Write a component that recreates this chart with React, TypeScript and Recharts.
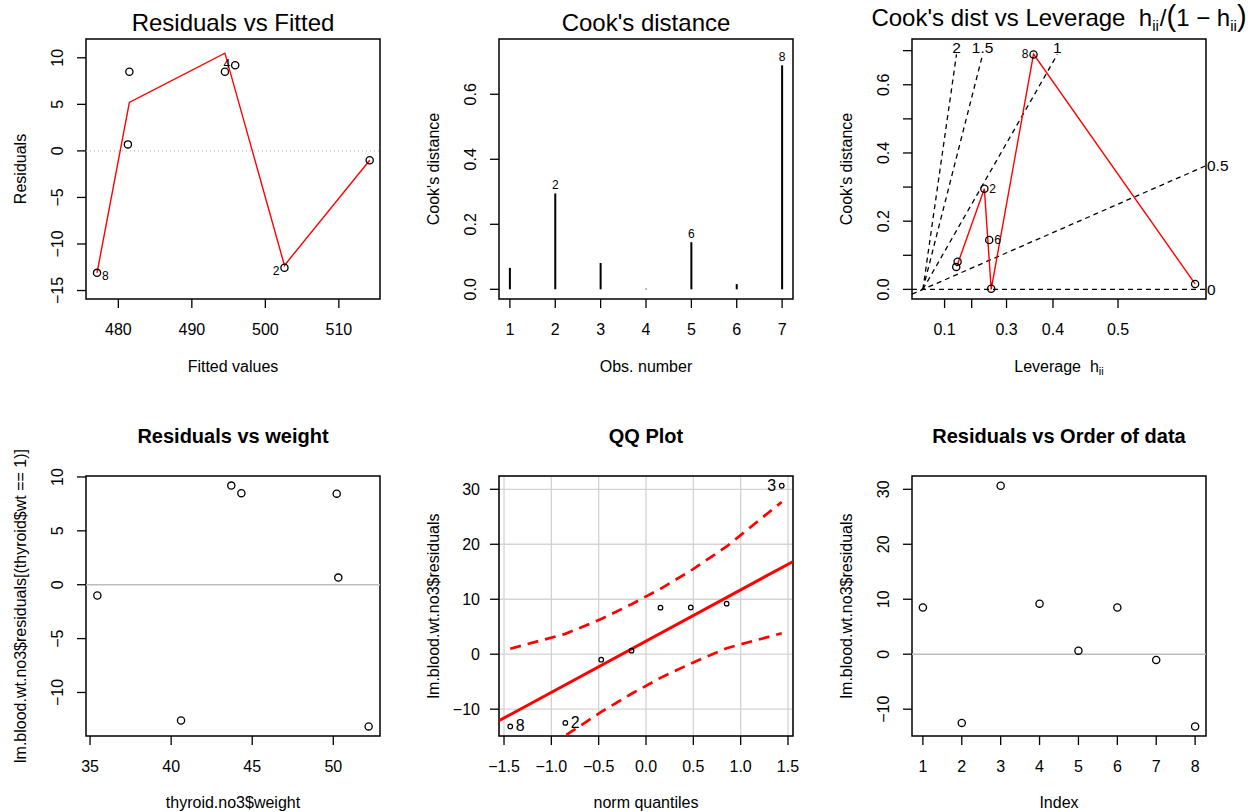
import React from "react";
import {
  ComposedChart,
  XAxis,
  YAxis,
  Scatter,
  Line,
  ReferenceLine,
  ReferenceArea,
  ReferenceDot,
  CartesianGrid,
} from "recharts";

const FONT = '"Liberation Sans", Arial, Helvetica, sans-serif';
const RED = "#ff0000";

// ---- model without obs 3: residuals vs fitted ----
const obsIds = ["1", "2", "4", "5", "6", "7", "8"];
const fittedVals = [481.5, 502.6, 495.9, 481.3, 494.5, 514.2, 477.1];
const residVals = [8.5, -12.55, 9.2, 0.7, 8.5, -1.0, -13.1];
const smoothFitted = [477.1, 481.5, 494.5, 502.6, 514.2];
const smoothResid = [-13.1, 5.2, 10.5, -12.3, -1.0];
const fittedTicks = [480, 490, 500, 510];
const residTicks = [-15, -10, -5, 0, 5, 10];
const flaggedResid = ["8", "2", "4"];

// ---- Cook's distance ----
const cookObs = [1, 2, 3, 4, 5, 6, 7];
const cookD = [0.066, 0.295, 0.081, 0.002, 0.145, 0.016, 0.689];
const flaggedCook = ["2", "6", "8"];
const cookTicks = [0, 0.2, 0.4, 0.6];

// ---- Cook's dist vs leverage h/(1-h) ----
const levRatio = [0.171, 0.315, 0.178, 0.35, 0.34, 1.395, 0.567];
const smoothLev = [0.174, 0.315, 0.35, 0.567, 1.395];
const smoothCook = [0.068, 0.295, 0.0, 0.69, 0.016];
const contourLevels = [0, 0.5, 1, 1.5, 2];
const levTicksH = [0.1, 0.2, 0.3, 0.4, 0.5];
const levTickLabels = ["0.1", "", "0.3", "0.4", "0.5"];
const cookTicks3 = [0, 0.1, 0.2, 0.3, 0.4, 0.5, 0.6, 0.7];
const cookTick3Labels = ["0.0", "", "0.2", "", "0.4", "", "0.6", ""];
const flaggedLev = ["8", "2", "6"];

// ---- residuals vs weight ----
const weights = [35.45, 40.61, 43.71, 44.33, 50.21, 50.31, 52.18];
const weightResid = [-1.0, -12.6, 9.2, 8.5, 8.45, 0.66, -13.15];
const weightTicks = [35, 40, 45, 50];
const weightResidTicks = [-10, -5, 0, 5, 10];

// ---- QQ plot (full model residuals) ----
const qqQuantiles = [-1.434, -0.852, -0.473, -0.153, 0.153, 0.473, 0.852, 1.434];
const qqSorted = [-13.15, -12.5, -1.0, 0.65, 8.47, 8.5, 9.2, 30.65];
const qqIds = ["8", "2", "7", "5", "1", "6", "4", "3"];
const qqUpper = [1.0, 3.7, 6.4, 9.1, 11.9, 15.2, 19.6, 27.7];
const qqLower = [-22.9, -14.8, -10.5, -7.2, -4.3, -1.7, 1.1, 3.8];
const qqLineX = [-1.55, 1.55];
const qqLineY = [-12.07, 16.83];
const flaggedQQ = ["8", "2", "3"];
const qqXTicks = [-1.5, -1, -0.5, 0, 0.5, 1, 1.5];
const bigResidTicks = [-10, 0, 10, 20, 30];

// ---- residuals vs order ----
const orderIdx = [1, 2, 3, 4, 5, 6, 7, 8];
const orderResid = [8.5, -12.5, 30.65, 9.2, 0.65, 8.5, -1.04, -13.15];

const fmt = (v: number, d: number) => {
  const s = Math.abs(v).toFixed(d);
  return v < -1e-9 ? "\u2212" + s : s;
};

const TL = { stroke: "#000", strokeWidth: 1.3 };

function XTick(props: any) {
  const { x, y, payload, index, labels, digits } = props;
  const text = labels ? labels[index] : fmt(payload.value, digits ?? 0);
  return (
    <text x={x} y={y + 26.5} textAnchor="middle" fontSize={16} fontFamily={FONT} fill="#000">
      {text}
    </text>
  );
}

function YTickRot(props: any) {
  const { x, y, payload, index, labels, digits } = props;
  const text = labels ? labels[index] : fmt(payload.value, digits ?? 0);
  const bx = x - 13.5;
  return (
    <text x={bx} y={y} transform={`rotate(-90 ${bx} ${y})`} textAnchor="middle" fontSize={16} fontFamily={FONT} fill="#000">
      {text}
    </text>
  );
}

function YTickFlat(props: any) {
  const { x, y, payload } = props;
  return (
    <text x={x - 10} y={y + 5.5} textAnchor="end" fontSize={16} fontFamily={FONT} fill="#000">
      {fmt(payload.value, 0)}
    </text>
  );
}

const ring = (r: number, w: number) => (p: any) => (
  <circle cx={p.cx} cy={p.cy} r={r} fill="none" stroke="#000" strokeWidth={w} />
);

const textDot = (text: string, anchor: "start" | "end" | "middle", dx: number, dy: number, size: number) => (p: any) => (
  <text x={p.cx + dx} y={p.cy + dy} textAnchor={anchor} fontSize={size} fontFamily={FONT} fill="#000">
    {text}
  </text>
);

// layout helpers
const COLS = [0, 420, 840];
const BOX_L = [86, 499, 912];
const BOX_W = 294;
const ROWS = [
  { top: 0, h: 400, boxTop: 39 },
  { top: 400, h: 412, boxTop: 476 },
];
const BOX_H = 260;

function frame(col: number, row: number) {
  const r = ROWS[row];
  return {
    pos: { position: "absolute" as const, left: COLS[col], top: r.top },
    width: 420,
    height: r.h,
    margin: { top: r.boxTop - r.top, right: COLS[col] + 420 - (BOX_L[col] + BOX_W), left: 0, bottom: 0 },
    yw: BOX_L[col] - COLS[col],
    xh: r.top + r.h - (r.boxTop + BOX_H),
  };
}

const axisCommon = {
  type: "number" as const,
  allowDataOverflow: true,
  interval: 0 as const,
  tickSize: 9,
  tickMargin: 0,
  axisLine: false,
  tickLine: TL,
};

function ResidFitted() {
  const f = frame(0, 0);
  const xd = [475.6, 515.6];
  const yd = [-15.91, 12.02];
  const pts = fittedVals.map((x, i) => ({ x, y: residVals[i], id: obsIds[i] }));
  const smooth = smoothFitted.map((x, i) => ({ x, y: smoothResid[i] }));
  const mid = (Math.min(...fittedVals) + Math.max(...fittedVals)) / 2;
  // label nudges so they sit clear of neighbouring circles
  const nudgeY: Record<string, number> = { "8": 7, "2": 7, "4": 2.5 };
  return (
    <div style={f.pos}>
      <ComposedChart width={f.width} height={f.height} margin={f.margin} data={pts}>
        <XAxis {...axisCommon} dataKey="x" domain={xd} ticks={fittedTicks} height={f.xh} tick={<XTick />} />
        <YAxis {...axisCommon} dataKey="y" domain={yd} ticks={residTicks} width={f.yw} tick={<YTickRot />} />
        <ReferenceLine y={0} stroke="#bebebe" strokeWidth={1.3} strokeDasharray="1 3" />
        <Line data={smooth} dataKey="y" type="linear" stroke={RED} strokeWidth={1.4} dot={false} isAnimationActive={false} />
        <Scatter data={pts} dataKey="y" shape={ring(3.6, 1.3)} isAnimationActive={false} />
        {flaggedResid.map((id) => {
          const p = pts.find((q) => q.id === id)!;
          const left = p.x > mid;
          return (
            <ReferenceDot
              key={id}
              x={p.x}
              y={p.y}
              ifOverflow="visible"
              shape={textDot(id, left ? "end" : "start", left ? -5 : 5, nudgeY[id], 12)}
            />
          );
        })}
        <ReferenceArea x1={xd[0]} x2={xd[1]} y1={yd[0]} y2={yd[1]} fill="none" stroke="#000" strokeWidth={1.5} ifOverflow="visible" />
      </ComposedChart>
    </div>
  );
}

function CookBars() {
  const f = frame(1, 0);
  const xd = [0.76, 7.24];
  const yd = [-0.0298, 0.77];
  const rows = cookObs.map((x, i) => ({ x, y: cookD[i], id: obsIds[i] }));
  return (
    <div style={f.pos}>
      <ComposedChart width={f.width} height={f.height} margin={f.margin} data={rows}>
        <XAxis {...axisCommon} dataKey="x" domain={xd} ticks={cookObs} height={f.xh} tick={<XTick />} />
        <YAxis {...axisCommon} dataKey="y" domain={yd} ticks={cookTicks} width={f.yw} tick={<YTickRot digits={1} />} />
        {rows.map((r) => (
          <ReferenceLine key={r.x} segment={[{ x: r.x, y: 0 }, { x: r.x, y: r.y }]} stroke="#000" strokeWidth={2} ifOverflow="visible" />
        ))}
        {flaggedCook.map((id) => {
          const r = rows.find((q) => q.id === id)!;
          return <ReferenceDot key={id} x={r.x} y={r.y} ifOverflow="visible" shape={textDot(id, "middle", 0, -4, 12)} />;
        })}
        <ReferenceArea x1={xd[0]} x2={xd[1]} y1={yd[0]} y2={yd[1]} fill="none" stroke="#000" strokeWidth={1.5} ifOverflow="visible" />
      </ComposedChart>
    </div>
  );
}

function CookLeverage() {
  const f = frame(2, 0);
  const xd = [-0.0558, 1.4508];
  const yd = [-0.0282, 0.7342];
  const pts = levRatio.map((x, i) => ({ x, y: cookD[i], id: obsIds[i] }));
  const smooth = smoothLev.map((x, i) => ({ x, y: smoothCook[i] }));
  const levTicks = levTicksH.map((h) => h / (1 - h));
  const cookTop = Math.max(...cookD);
  const sides: Record<string, "left" | "right"> = { "8": "left", "2": "right", "6": "right" };
  const contours = contourLevels.map((k) => {
    const b = k * k;
    if (cookTop > b * xd[1]) {
      return { k, across: true, a: { x: xd[0], y: b * xd[0] }, z: { x: xd[1], y: b * xd[1] } };
    }
    return { k, across: false, a: { x: 0, y: 0 }, z: { x: cookTop / b, y: cookTop } };
  });
  return (
    <div style={f.pos}>
      <ComposedChart width={f.width} height={f.height} margin={f.margin} data={pts}>
        <XAxis {...axisCommon} dataKey="x" domain={xd} ticks={levTicks} height={f.xh} tick={<XTick labels={levTickLabels} />} />
        <YAxis {...axisCommon} dataKey="y" domain={yd} ticks={cookTicks3} width={f.yw} tick={<YTickRot labels={cookTick3Labels} />} />
        {contours.map((c) => (
          <ReferenceLine key={"c" + c.k} segment={[c.a, c.z]} stroke="#000" strokeWidth={1.3} strokeDasharray="5 4" ifOverflow="visible" />
        ))}
        {contours.map((c) => (
          <ReferenceDot
            key={"l" + c.k}
            x={c.z.x}
            y={c.z.y}
            ifOverflow="visible"
            shape={c.across ? textDot(String(c.k), "start", 1, 5.5, 15.5) : textDot(String(c.k), "middle", 0, -1, 15.5)}
          />
        ))}
        <Line data={smooth} dataKey="y" type="linear" stroke={RED} strokeWidth={1.4} dot={false} isAnimationActive={false} />
        <Scatter data={pts} dataKey="y" shape={ring(3.6, 1.3)} isAnimationActive={false} />
        {flaggedLev.map((id) => {
          const p = pts.find((q) => q.id === id)!;
          const left = sides[id] === "left";
          return (
            <ReferenceDot key={id} x={p.x} y={p.y} ifOverflow="visible" shape={textDot(id, left ? "end" : "start", left ? -5 : 5, 4, 12)} />
          );
        })}
        <ReferenceArea x1={xd[0]} x2={xd[1]} y1={yd[0]} y2={yd[1]} fill="none" stroke="#000" strokeWidth={1.5} ifOverflow="visible" />
      </ComposedChart>
    </div>
  );
}

function ResidWeight() {
  const f = frame(0, 1);
  const xd = [34.75, 52.88];
  const yd = [-14.04, 10.09];
  const pts = weights.map((x, i) => ({ x, y: weightResid[i] }));
  return (
    <div style={f.pos}>
      <ComposedChart width={f.width} height={f.height} margin={f.margin} data={pts}>
        <XAxis {...axisCommon} dataKey="x" domain={xd} ticks={weightTicks} height={f.xh} tick={<XTick />} />
        <YAxis {...axisCommon} dataKey="y" domain={yd} ticks={weightResidTicks} width={f.yw} tick={<YTickRot />} />
        <ReferenceLine y={0} stroke="#bebebe" strokeWidth={1.5} />
        <Scatter data={pts} dataKey="y" shape={ring(3.6, 1.3)} isAnimationActive={false} />
        <ReferenceArea x1={xd[0]} x2={xd[1]} y1={yd[0]} y2={yd[1]} fill="none" stroke="#000" strokeWidth={1.5} ifOverflow="visible" />
      </ComposedChart>
    </div>
  );
}

function QQPanel() {
  const f = frame(1, 1);
  const xd = [-1.553, 1.553];
  const yd = [-14.88, 32.42];
  const pts = qqQuantiles.map((x, i) => ({ x, y: qqSorted[i], id: qqIds[i] }));
  const upper = qqQuantiles.map((x, i) => ({ x, y: qqUpper[i] }));
  const lower = qqQuantiles.map((x, i) => ({ x, y: qqLower[i] }));
  const fitLine = qqLineX.map((x, i) => ({ x, y: qqLineY[i] }));
  return (
    <div style={f.pos}>
      <ComposedChart width={f.width} height={f.height} margin={f.margin} data={pts}>
        <CartesianGrid stroke="#d3d3d3" strokeWidth={1.3} />
        <XAxis {...axisCommon} dataKey="x" domain={xd} ticks={qqXTicks} height={f.xh} tick={<XTick digits={1} />} />
        <YAxis {...axisCommon} dataKey="y" domain={yd} ticks={bigResidTicks} width={f.yw} tick={<YTickFlat />} />
        <Line data={fitLine} dataKey="y" type="linear" stroke={RED} strokeWidth={3} dot={false} isAnimationActive={false} />
        <Line data={upper} dataKey="y" type="linear" stroke={RED} strokeWidth={2.7} strokeDasharray="11 7" dot={false} isAnimationActive={false} />
        <Line data={lower} dataKey="y" type="linear" stroke={RED} strokeWidth={2.7} strokeDasharray="11 7" dot={false} isAnimationActive={false} />
        <Scatter data={pts} dataKey="y" shape={ring(2.3, 1.2)} isAnimationActive={false} />
        {flaggedQQ.map((id) => {
          const p = pts.find((q) => q.id === id)!;
          const left = p.x > 0;
          return (
            <ReferenceDot key={id} x={p.x} y={p.y} ifOverflow="visible" shape={textDot(id, left ? "end" : "start", left ? -5.5 : 5.5, 5, 16)} />
          );
        })}
        <ReferenceArea x1={xd[0]} x2={xd[1]} y1={yd[0]} y2={yd[1]} fill="none" stroke="#000" strokeWidth={1.5} ifOverflow="visible" />
      </ComposedChart>
    </div>
  );
}

function ResidOrder() {
  const f = frame(2, 1);
  const xd = [0.72, 8.28];
  const yd = [-14.88, 32.42];
  const pts = orderIdx.map((x, i) => ({ x, y: orderResid[i] }));
  return (
    <div style={f.pos}>
      <ComposedChart width={f.width} height={f.height} margin={f.margin} data={pts}>
        <XAxis {...axisCommon} dataKey="x" domain={xd} ticks={orderIdx} height={f.xh} tick={<XTick />} />
        <YAxis {...axisCommon} dataKey="y" domain={yd} ticks={bigResidTicks} width={f.yw} tick={<YTickRot />} />
        <ReferenceLine y={0} stroke="#bebebe" strokeWidth={1.5} />
        <Scatter data={pts} dataKey="y" shape={ring(3.6, 1.3)} isAnimationActive={false} />
        <ReferenceArea x1={xd[0]} x2={xd[1]} y1={yd[0]} y2={yd[1]} fill="none" stroke="#000" strokeWidth={1.5} ifOverflow="visible" />
      </ComposedChart>
    </div>
  );
}

function YTitle({ x, y, children }: { x: number; y: number; children: React.ReactNode }) {
  return (
    <text x={x} y={y} transform={`rotate(-90 ${x} ${y})`} textAnchor="middle" fontSize={16}>
      {children}
    </text>
  );
}

function Titles() {
  const nb = "\u00a0\u00a0";
  return (
    <svg width={1260} height={812} style={{ position: "absolute", left: 0, top: 0, pointerEvents: "none" }} fontFamily={FONT} fill="#000">
      <text x={233} y={30.5} fontSize={24} textAnchor="middle">Residuals vs Fitted</text>
      <text x={646} y={31} fontSize={24} textAnchor="middle">Cook's distance</text>
      <text x={1059} y={26} fontSize={24} textAnchor="middle">
        {"Cook's dist vs Leverage" + nb + "h"}
        <tspan fontSize={15} dy={5}>ii</tspan>
        <tspan dy={-5} dx={1}>/</tspan>
        <tspan fontSize={29}>(</tspan>
        <tspan>{"1 \u2212 h"}</tspan>
        <tspan fontSize={15} dy={5}>ii</tspan>
        <tspan fontSize={29} dy={-5}>)</tspan>
      </text>

      <text x={233} y={443} fontSize={20} fontWeight="bold" textAnchor="middle">Residuals vs weight</text>
      <text x={646} y={443} fontSize={20} fontWeight="bold" textAnchor="middle">QQ Plot</text>
      <text x={1059} y={443} fontSize={20} fontWeight="bold" textAnchor="middle">Residuals vs Order of data</text>

      <text x={233} y={372} fontSize={16} textAnchor="middle">Fitted values</text>
      <text x={646} y={372} fontSize={16} textAnchor="middle">Obs. number</text>
      <text x={1059} y={372} fontSize={16} textAnchor="middle">
        {"Leverage" + nb + "h"}
        <tspan fontSize={11} dy={3}>ii</tspan>
      </text>
      <text x={233} y={807.5} fontSize={16} textAnchor="middle">thyroid.no3$weight</text>
      <text x={646} y={807.5} fontSize={16} textAnchor="middle">norm quantiles</text>
      <text x={1059} y={807.5} fontSize={16} textAnchor="middle">Index</text>

      <YTitle x={25.5} y={169}>Residuals</YTitle>
      <YTitle x={438.5} y={169}>Cook's distance</YTitle>
      <YTitle x={851.5} y={169}>Cook's distance</YTitle>
      <YTitle x={25.5} y={606}>lm.blood.wt.no3$residuals[(thyroid$wt == 1)]</YTitle>
      <YTitle x={438.5} y={606}>lm.blood.wt.no3$residuals</YTitle>
      <YTitle x={851.5} y={606}>lm.blood.wt.no3$residuals</YTitle>
    </svg>
  );
}

export default function App() {
  return (
    <div style={{ position: "absolute", left: 0, top: 0, width: 1260, height: 812, background: "#fff", fontFamily: FONT }}>
      <ResidFitted />
      <CookBars />
      <CookLeverage />
      <ResidWeight />
      <QQPanel />
      <ResidOrder />
      <Titles />
    </div>
  );
}
